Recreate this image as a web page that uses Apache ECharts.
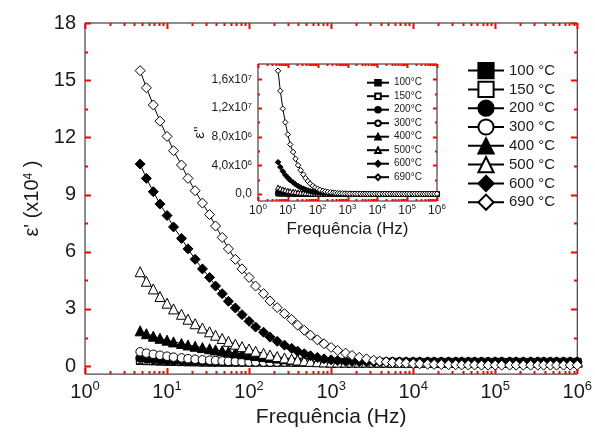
<!DOCTYPE html>
<html>
<head>
<meta charset="utf-8">
<script src="https://cdn.jsdelivr.net/npm/echarts@6/dist/echarts.min.js"></script>
<style>
html, body { margin: 0; padding: 0; background: #fff; }
#chart { width: 595px; height: 433px; }
</style>
</head>
<body>
<div id="chart"></div>
<script>
// frequencies (Hz), shared by all curves
const freq = [
  4.7, 5.6, 6.8, 8.2,
  10, 12, 15, 18, 22, 27, 33, 39, 47, 56, 68, 82,
  100, 120, 150, 180, 220, 270, 330, 390, 470, 560, 680, 820,
  1e3, 1.2e3, 1.5e3, 1.8e3, 2.2e3, 2.7e3, 3.3e3, 3.9e3, 4.7e3, 5.6e3, 6.8e3, 8.2e3,
  1e4, 1.2e4, 1.5e4, 1.8e4, 2.2e4, 2.7e4, 3.3e4, 3.9e4, 4.7e4, 5.6e4, 6.8e4, 8.2e4,
  1e5, 1.2e5, 1.5e5, 1.8e5, 2.2e5, 2.7e5, 3.3e5, 3.9e5, 4.7e5, 5.6e5, 6.8e5, 8.2e5,
  1e6
];

const mainNames = ['100 °C', '150 °C', '200 °C', '300 °C', '400 °C', '500 °C', '600 °C', '690 °C'];
const insetNames = ['100°C', '150°C', '200°C', '300°C', '400°C', '500°C', '600°C', '690°C'];

// eps' (x10^4)
const e1_100 = [
  0.28, 0.27, 0.26, 0.25,
  0.24, 0.23, 0.22, 0.21, 0.21, 0.2, 0.2, 0.2, 0.2, 0.2, 0.2, 0.2,
  0.2, 0.2, 0.2, 0.2, 0.2, 0.2, 0.2, 0.2, 0.2, 0.2, 0.2, 0.2,
  0.2, 0.2, 0.2, 0.2, 0.2, 0.2, 0.2, 0.2, 0.2, 0.2, 0.2, 0.2,
  0.2, 0.2, 0.2, 0.2, 0.2, 0.2, 0.2, 0.2, 0.2, 0.2, 0.2, 0.2,
  0.2, 0.2, 0.2, 0.2, 0.2, 0.2, 0.2, 0.2, 0.2, 0.2, 0.2, 0.2,
  0.2
];
const e1_150 = [
  0.32, 0.3, 0.28, 0.27,
  0.26, 0.25, 0.24, 0.23, 0.22, 0.21, 0.21, 0.21, 0.21, 0.21, 0.21, 0.21,
  0.21, 0.21, 0.21, 0.21, 0.21, 0.21, 0.21, 0.21, 0.21, 0.21, 0.21, 0.21,
  0.21, 0.21, 0.21, 0.21, 0.21, 0.21, 0.21, 0.21, 0.21, 0.21, 0.21, 0.21,
  0.21, 0.21, 0.21, 0.21, 0.21, 0.21, 0.21, 0.21, 0.21, 0.21, 0.21, 0.21,
  0.21, 0.21, 0.21, 0.21, 0.21, 0.21, 0.21, 0.21, 0.21, 0.21, 0.21, 0.21,
  0.21
];
const e1_200 = [
  0.42, 0.38, 0.35, 0.32,
  0.3, 0.28, 0.27, 0.26, 0.25, 0.24, 0.23, 0.22, 0.22, 0.21, 0.21, 0.21,
  0.21, 0.21, 0.21, 0.21, 0.21, 0.21, 0.21, 0.21, 0.21, 0.21, 0.21, 0.21,
  0.21, 0.21, 0.21, 0.21, 0.21, 0.21, 0.21, 0.21, 0.21, 0.21, 0.21, 0.21,
  0.21, 0.21, 0.21, 0.21, 0.21, 0.21, 0.21, 0.21, 0.21, 0.21, 0.21, 0.21,
  0.21, 0.21, 0.21, 0.21, 0.21, 0.21, 0.21, 0.21, 0.21, 0.21, 0.21, 0.21,
  0.21
];
const e1_300 = [
  0.75, 0.68, 0.62, 0.57,
  0.52, 0.47, 0.43, 0.39, 0.36, 0.33, 0.31, 0.29, 0.27, 0.25, 0.24, 0.23,
  0.22, 0.22, 0.21, 0.21, 0.21, 0.21, 0.21, 0.21, 0.21, 0.21, 0.21, 0.21,
  0.21, 0.21, 0.21, 0.21, 0.21, 0.21, 0.21, 0.21, 0.21, 0.21, 0.21, 0.21,
  0.21, 0.21, 0.21, 0.21, 0.21, 0.21, 0.21, 0.21, 0.21, 0.21, 0.21, 0.21,
  0.21, 0.21, 0.21, 0.21, 0.21, 0.21, 0.21, 0.21, 0.21, 0.21, 0.21, 0.21,
  0.21
];
const e1_400 = [
  1.85, 1.7, 1.57, 1.46,
  1.36, 1.27, 1.19, 1.11, 1.04, 0.97, 0.91, 0.85, 0.8, 0.75, 0.7, 0.65,
  0.6, 0.55, 0.5, 0.46, 0.42, 0.38, 0.34, 0.31, 0.28, 0.26, 0.24, 0.23,
  0.22, 0.22, 0.22, 0.22, 0.22, 0.22, 0.22, 0.22, 0.22, 0.22, 0.22, 0.22,
  0.22, 0.22, 0.22, 0.22, 0.22, 0.22, 0.22, 0.22, 0.22, 0.22, 0.22, 0.22,
  0.22, 0.22, 0.22, 0.22, 0.22, 0.22, 0.22, 0.22, 0.22, 0.22, 0.22, 0.22,
  0.22
];
const e1_500 = [
  4.95, 4.45, 4.05, 3.65,
  3.3, 3.0, 2.72, 2.46, 2.22, 2.0, 1.8, 1.62, 1.45, 1.3, 1.15, 1.02,
  0.9, 0.78, 0.67, 0.58, 0.5, 0.43, 0.37, 0.32, 0.28, 0.25, 0.23, 0.22,
  0.21, 0.21, 0.21, 0.21, 0.21, 0.21, 0.21, 0.21, 0.21, 0.21, 0.21, 0.21,
  0.21, 0.21, 0.21, 0.21, 0.21, 0.21, 0.21, 0.21, 0.21, 0.21, 0.21, 0.21,
  0.21, 0.21, 0.21, 0.21, 0.21, 0.21, 0.21, 0.21, 0.21, 0.21, 0.21, 0.21,
  0.21
];
const e1_600 = [
  10.6, 9.85, 9.15, 8.5,
  7.9, 7.3, 6.7, 6.15, 5.6, 5.1, 4.65, 4.2, 3.8, 3.4, 3.05, 2.7,
  2.35, 2.05, 1.78, 1.52, 1.3, 1.1, 0.93, 0.78, 0.65, 0.54, 0.45, 0.38,
  0.33, 0.29, 0.26, 0.24, 0.23, 0.22, 0.22, 0.22, 0.22, 0.22, 0.22, 0.22,
  0.22, 0.22, 0.22, 0.22, 0.22, 0.22, 0.22, 0.22, 0.22, 0.22, 0.22, 0.22,
  0.22, 0.22, 0.22, 0.22, 0.22, 0.22, 0.22, 0.22, 0.22, 0.22, 0.22, 0.22,
  0.22
];
const e1_690 = [
  15.5, 14.6, 13.7, 12.85,
  12.05, 11.3, 10.55, 9.85, 9.2, 8.55, 7.95, 7.35, 6.75, 6.15, 5.6, 5.1,
  4.65, 4.2, 3.8, 3.42, 3.07, 2.75, 2.45, 2.15, 1.88, 1.62, 1.38, 1.17,
  0.98, 0.82, 0.68, 0.56, 0.46, 0.38, 0.31, 0.26, 0.22, 0.19, 0.17, 0.15,
  0.13, 0.12, 0.1, 0.09, 0.08, 0.07, 0.07, 0.06, 0.06, 0.06, 0.05, 0.05,
  0.05, 0.05, 0.05, 0.05, 0.05, 0.05, 0.05, 0.05, 0.05, 0.05, 0.05, 0.05,
  0.05
];

// eps'' (x10^6), inset
const e2_100 = [
  0.03, 0.03, 0.02, 0.02,
  0.01, 0.01, 0.01, 0.01, 0.01, 0, 0, 0, 0, 0, 0, 0,
  0, 0, 0, 0, 0, 0, 0, 0, 0, 0, 0, 0,
  0, 0, 0, 0, 0, 0, 0, 0, 0, 0, 0, 0,
  0, 0, 0, 0, 0, 0, 0, 0, 0, 0, 0, 0,
  0, 0, 0, 0, 0, 0, 0, 0, 0, 0, 0, 0,
  0
];
const e2_150 = [
  0.06, 0.05, 0.04, 0.03,
  0.02, 0.02, 0.01, 0.01, 0.01, 0.01, 0, 0, 0, 0, 0, 0,
  0, 0, 0, 0, 0, 0, 0, 0, 0, 0, 0, 0,
  0, 0, 0, 0, 0, 0, 0, 0, 0, 0, 0, 0,
  0, 0, 0, 0, 0, 0, 0, 0, 0, 0, 0, 0,
  0, 0, 0, 0, 0, 0, 0, 0, 0, 0, 0, 0,
  0
];
const e2_200 = [
  0.12, 0.1, 0.08, 0.06,
  0.05, 0.04, 0.03, 0.02, 0.02, 0.01, 0.01, 0.01, 0, 0, 0, 0,
  0, 0, 0, 0, 0, 0, 0, 0, 0, 0, 0, 0,
  0, 0, 0, 0, 0, 0, 0, 0, 0, 0, 0, 0,
  0, 0, 0, 0, 0, 0, 0, 0, 0, 0, 0, 0,
  0, 0, 0, 0, 0, 0, 0, 0, 0, 0, 0, 0,
  0
];
const e2_300 = [
  0.2, 0.16, 0.13, 0.1,
  0.08, 0.06, 0.05, 0.04, 0.03, 0.02, 0.02, 0.01, 0.01, 0.01, 0, 0,
  0, 0, 0, 0, 0, 0, 0, 0, 0, 0, 0, 0,
  0, 0, 0, 0, 0, 0, 0, 0, 0, 0, 0, 0,
  0, 0, 0, 0, 0, 0, 0, 0, 0, 0, 0, 0,
  0, 0, 0, 0, 0, 0, 0, 0, 0, 0, 0, 0,
  0
];
const e2_400 = [
  0.45, 0.37, 0.3, 0.25,
  0.2, 0.16, 0.13, 0.1, 0.08, 0.06, 0.05, 0.04, 0.03, 0.02, 0.02, 0.01,
  0.01, 0.01, 0, 0, 0, 0, 0, 0, 0, 0, 0, 0,
  0, 0, 0, 0, 0, 0, 0, 0, 0, 0, 0, 0,
  0, 0, 0, 0, 0, 0, 0, 0, 0, 0, 0, 0,
  0, 0, 0, 0, 0, 0, 0, 0, 0, 0, 0, 0,
  0
];
const e2_500 = [
  0.9, 0.75, 0.62, 0.52,
  0.43, 0.36, 0.3, 0.25, 0.2, 0.16, 0.13, 0.1, 0.08, 0.06, 0.05, 0.04,
  0.03, 0.02, 0.02, 0.01, 0.01, 0.01, 0, 0, 0, 0, 0, 0,
  0, 0, 0, 0, 0, 0, 0, 0, 0, 0, 0, 0,
  0, 0, 0, 0, 0, 0, 0, 0, 0, 0, 0, 0,
  0, 0, 0, 0, 0, 0, 0, 0, 0, 0, 0, 0,
  0
];
const e2_600 = [
  4.43, 3.75, 3.15, 2.65,
  2.25, 1.9, 1.6, 1.33, 1.1, 0.9, 0.74, 0.6, 0.48, 0.38, 0.3, 0.24,
  0.19, 0.15, 0.12, 0.09, 0.07, 0.05, 0.04, 0.03, 0.02, 0.02, 0.01, 0.01,
  0.01, 0.01, 0, 0, 0, 0, 0, 0, 0, 0, 0, 0,
  0, 0, 0, 0, 0, 0, 0, 0, 0, 0, 0, 0,
  0, 0, 0, 0, 0, 0, 0, 0, 0, 0, 0, 0,
  0
];
const e2_690 = [
  17.2, 14.4, 11.9, 10.0,
  8.3, 6.9, 5.85, 4.9, 4.0, 3.3, 2.7, 2.2, 1.78, 1.42, 1.12, 0.88,
  0.7, 0.55, 0.43, 0.34, 0.27, 0.21, 0.17, 0.13, 0.1, 0.08, 0.06, 0.05,
  0.04, 0.03, 0.03, 0.02, 0.02, 0.02, 0.01, 0.01, 0.01, 0.01, 0.01, 0.01,
  0.01, 0.01, 0.01, 0, 0, 0, 0, 0, 0, 0, 0, 0,
  0, 0, 0, 0, 0, 0, 0, 0, 0, 0, 0, 0,
  0
];

const mainValues = [e1_100, e1_150, e1_200, e1_300, e1_400, e1_500, e1_600, e1_690];
const insetValues = [e2_100, e2_150, e2_200, e2_300, e2_400, e2_500, e2_600, e2_690];

// ticks
const xTicks = [1, 10, 100, 1e3, 1e4, 1e5, 1e6];
const xMinorTicks = [];
xTicks.slice(0, -1).forEach(d => { for (let m = 2; m <= 9; m++) xMinorTicks.push(d * m); });
const yTicks = [0, 3, 6, 9, 12, 15, 18];
const yMinorTicks = [1.5, 4.5, 7.5, 10.5, 13.5, 16.5];
const insetYTicks = [0, 4, 8, 12, 16];
const insetYMinorTicks = [2, 6, 10, 14];
const insetYLabels = ['0,0', '4,0x10{s|6}', '8,0x10{s|6}', '1,2x10{s|7}', '1,6x10{s|7}'];

const xRange = [1, 1e6];
const mainYRange = [-0.42, 18];
const insetYRange = [-1, 18.15];

const markers = [
  { symbol: 'rect', filled: true },
  { symbol: 'rect', filled: false },
  { symbol: 'circle', filled: true },
  { symbol: 'circle', filled: false },
  { symbol: 'triangle', filled: true },
  { symbol: 'triangle', filled: false },
  { symbol: 'diamond', filled: true },
  { symbol: 'diamond', filled: false },
];
const mainSizes = { rect: 7.5, circle: 8.5, triangle: 10, diamond: 10 };
const insetSizes = { rect: 4.5, circle: 4.5, triangle: 5, diamond: 5.5 };

const ink = '#1a1a1a';
const tickInk = '#ff0000';
const font = '"Liberation Sans", Arial, sans-serif';

function expLabel(v) {
  return '{b|10}{s|' + Math.round(Math.log10(v)) + '}';
}

function logAxis(gridIndex, labelSize, supSize, margin, nameSize, nameGap) {
  return {
    type: 'log', gridIndex: gridIndex, logBase: 10, min: xRange[0], max: xRange[1],
    axisLine: { show: false, onZero: false },
    axisTick: { show: false },
    splitLine: { show: false },
    axisLabel: {
      customValues: xTicks, margin: margin, formatter: expLabel,
      rich: {
        b: { fontSize: labelSize, fontFamily: font, color: ink, lineHeight: labelSize + 4 },
        s: { fontSize: supSize, fontFamily: font, color: ink, lineHeight: supSize + 1, verticalAlign: 'top' },
      },
    },
    name: 'Frequência (Hz)', nameLocation: 'middle', nameGap: nameGap,
    nameTextStyle: { fontSize: nameSize, fontFamily: font, color: ink },
  };
}

const xAxis = [
  logAxis(0, 20, 13, 6, 21, 32),
  logAxis(1, 12, 8, 2, 17, 20),
];

const yAxis = [
  {
    type: 'value', gridIndex: 0, min: mainYRange[0], max: mainYRange[1],
    axisLine: { show: false, onZero: false },
    axisTick: { show: false },
    splitLine: { show: false },
    axisLabel: { customValues: yTicks, margin: 9, fontSize: 20, fontFamily: font, color: ink },
    name: "ε' (x10{s|4} )", nameLocation: 'middle', nameGap: 41, nameRotate: 90,
    nameTextStyle: {
      fontSize: 20, fontFamily: font, color: ink,
      rich: { s: { fontSize: 12, fontFamily: font, color: ink, verticalAlign: 'top', lineHeight: 12 } },
    },
  },
  {
    type: 'value', gridIndex: 1, min: insetYRange[0], max: insetYRange[1],
    axisLine: { show: false, onZero: false },
    axisTick: { show: false },
    splitLine: { show: false },
    axisLabel: {
      customValues: insetYTicks, margin: 6,
      formatter: v => insetYLabels[insetYTicks.indexOf(Math.round(v))] || '',
      fontSize: 12, fontFamily: font, color: ink,
      rich: { s: { fontSize: 8, fontFamily: font, color: ink, verticalAlign: 'top', lineHeight: 9 } },
    },
    name: "ε''", nameLocation: 'middle', nameGap: 50, nameRotate: 90,
    nameTextStyle: { fontSize: 15, fontFamily: font, color: ink },
  },
];

// inward tick marks on all four sides, placed through the axes' own scales
function tickMarks(axisIndex, yRange, yMajor, yMinor, majLen, minLen) {
  const data = [];
  xTicks.forEach(v => { data.push([v, yRange[0], 0, majLen], [v, yRange[1], 1, majLen]); });
  xMinorTicks.forEach(v => { data.push([v, yRange[0], 0, minLen], [v, yRange[1], 1, minLen]); });
  yMajor.forEach(v => { data.push([xRange[0], v, 2, majLen], [xRange[1], v, 3, majLen]); });
  yMinor.forEach(v => { data.push([xRange[0], v, 2, minLen], [xRange[1], v, 3, minLen]); });
  return {
    type: 'custom',
    xAxisIndex: axisIndex,
    yAxisIndex: axisIndex,
    data: data,
    clip: false,
    silent: true,
    z: 3,
    renderItem: (params, api) => {
      const p = api.coord([api.value(0), api.value(1)]);
      const side = api.value(2);
      const len = api.value(3);
      let shape;
      if (side < 2) {
        const x = Math.round(p[0]) + 0.5;
        const y = Math.round(p[1]);
        shape = { x1: x, y1: y, x2: x, y2: side === 0 ? y - len : y + len };
      } else {
        const x = Math.round(p[0]);
        const y = Math.round(p[1]) + 0.5;
        shape = { x1: x, y1: y, x2: side === 2 ? x + len : x - len, y2: y };
      }
      return { type: 'line', shape: shape, style: { stroke: tickInk, lineWidth: 2 } };
    },
  };
}

function makeSeries(names, values, sizes, axisIndex) {
  return names.map((name, i) => {
    const m = markers[i];
    return {
      type: 'line',
      name: name,
      xAxisIndex: axisIndex,
      yAxisIndex: axisIndex,
      data: freq.map((f, k) => [f, values[i][k]]),
      symbol: m.symbol,
      symbolSize: sizes[m.symbol],
      showAllSymbol: true,
      lineStyle: { color: '#000', width: 1 },
      itemStyle: { color: m.filled ? '#000' : '#fff', borderColor: '#000', borderWidth: 1 },
      emphasis: { disabled: true },
      animation: false,
    };
  });
}

const chart = echarts.init(document.getElementById('chart'), null, { renderer: 'canvas' });
chart.setOption({
  animation: false,
  backgroundColor: '#fff',
  textStyle: { fontFamily: font, color: ink },
  grid: [
    { left: 85, top: 23, width: 495, height: 352, show: true, borderColor: ink, borderWidth: 1, backgroundColor: 'transparent' },
    { left: 258, top: 64, width: 179, height: 137, show: true, borderColor: ink, borderWidth: 1, backgroundColor: 'transparent' },
  ],
  xAxis: xAxis,
  yAxis: yAxis,
  legend: [
    {
      data: mainNames, orient: 'vertical', left: 467, top: 62, padding: 0,
      itemWidth: 36, itemHeight: 19, itemGap: 1.6, selectedMode: false,
      textStyle: { fontSize: 15, fontFamily: font, color: ink },
    },
    {
      data: insetNames, orient: 'vertical', left: 366, top: 76.7, padding: 0,
      itemWidth: 22, itemHeight: 7, itemGap: 1.5, selectedMode: false,
      textStyle: { fontSize: 10, lineHeight: 12, fontFamily: font, color: ink },
    },
  ],
  series: makeSeries(mainNames, mainValues, mainSizes, 0)
    .concat(makeSeries(insetNames, insetValues, insetSizes, 1))
    .concat([
      tickMarks(0, mainYRange, yTicks, yMinorTicks, 6, 3),
      tickMarks(1, insetYRange, insetYTicks, insetYMinorTicks, 4, 2),
    ]),
});
</script>
</body>
</html>
